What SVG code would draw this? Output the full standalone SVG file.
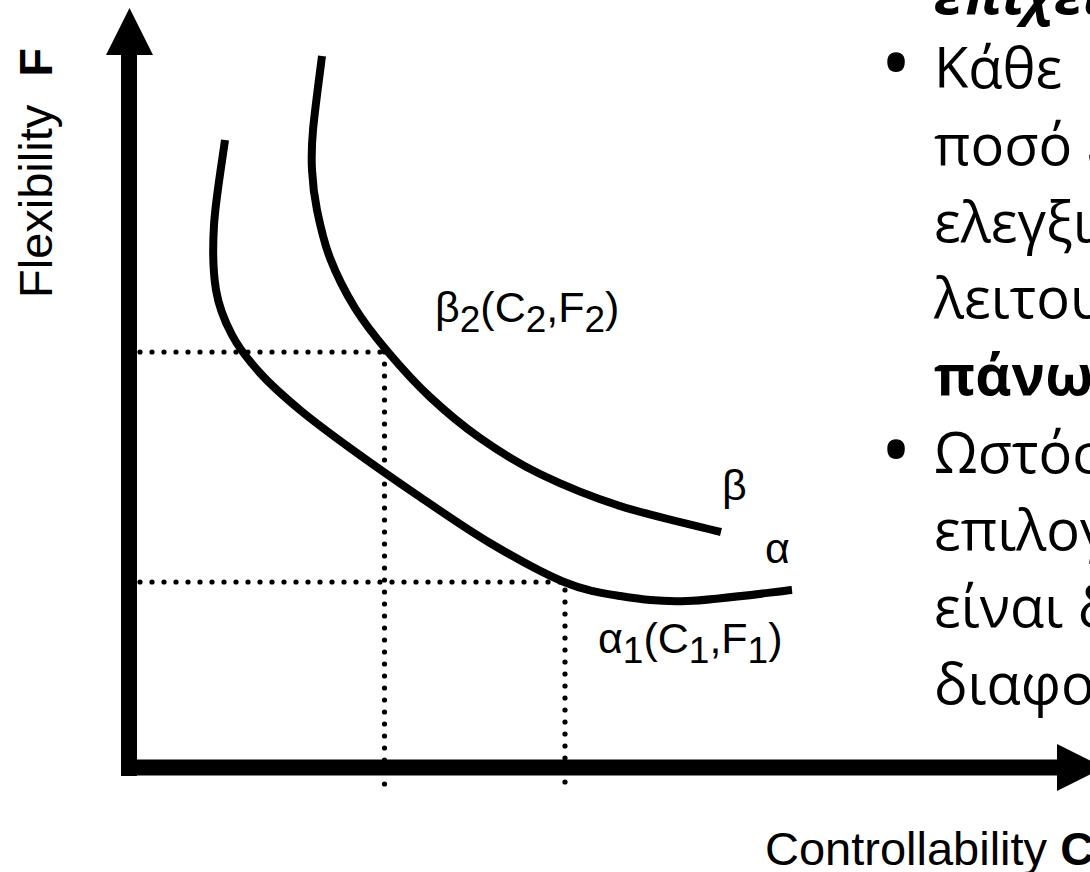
<svg xmlns="http://www.w3.org/2000/svg" width="1090" height="872" viewBox="0 0 1090 872">
<style>
.curve{fill:none;stroke:#000;stroke-width:8;stroke-linecap:butt}
.dot{fill:none;stroke:#000;stroke-width:5.2;stroke-linecap:round;stroke-dasharray:0 12}
.lbl{font-family:"Liberation Sans",Arial,sans-serif;font-size:43px;fill:#000}
.sub{font-size:37px}
.ax{font-family:"Liberation Sans",Arial,sans-serif;font-size:47px;fill:#000}
.body{font-family:"Open Sans","Noto Sans",sans-serif;font-size:56px;fill:#000}
.bul{font-family:"Open Sans","Noto Sans",sans-serif;font-size:84px;fill:#000}
</style>
<rect width="1090" height="872" fill="#fff"/>
<g id="guides">
<line class="dot" x1="140" y1="352" x2="386" y2="352"/>
<line class="dot" x1="384.5" y1="352" x2="384.5" y2="790"/>
<line class="dot" x1="140" y1="582" x2="564" y2="582"/>
<line class="dot" x1="565" y1="590" x2="565" y2="784"/>
</g>
<g id="axes">
<rect x="121" y="54" width="16" height="722" fill="#000"/>
<polygon points="106,55 129.5,8 153,55" fill="#000"/>
<rect x="121" y="759.5" width="937" height="16" fill="#000"/>
<polygon points="1057,744 1104,767.5 1057,791" fill="#000"/>
</g>
<g id="curve-alpha">
<path class="curve" d="M225,140 C223.2,154.2 215.5,200 214,225 C212.5,250 213,271.7 216,290 C219,308.3 224.7,321.2 232,335 C239.3,348.8 248.7,360.5 260,373 C271.3,385.5 285,397.5 300,410 C315,422.5 330,433.5 350,448 C370,462.5 396.7,481.2 420,497 C443.3,512.8 466,528.8 490,543 C514,557.2 542.3,573.2 564,582 C585.7,590.8 599.5,592.8 620,596 C640.5,599.2 658.3,602 687,601 C715.7,600 774.5,591.8 792,590"/>
</g>
<g id="curve-beta">
<path class="curve" d="M322,56 C320.5,68.3 314.7,111 313,130 C311.3,149 311.3,156.7 312,170 C312.7,183.3 314,195.3 317,210 C320,224.7 323.7,241.7 330,258 C336.3,274.3 345.3,292.3 355,308 C364.7,323.7 375.5,337.2 388,352 C400.5,366.8 414.7,382.7 430,397 C445.3,411.3 461.7,425.2 480,438 C498.3,450.8 516.7,462.7 540,474 C563.3,485.3 589.8,496.3 620,506 C650.2,515.7 704.2,527.7 721,532"/>
</g>
<g id="labels">
<text class="lbl" x="722" y="500">β</text>
<text class="lbl" x="765" y="563">α</text>
<text class="lbl" x="435" y="322">β<tspan class="sub" dy="10">2</tspan><tspan dy="-10">(C</tspan><tspan class="sub" dy="10">2</tspan><tspan dy="-10">,F</tspan><tspan class="sub" dy="10">2</tspan><tspan dy="-10">)</tspan></text>
<text class="lbl" x="598" y="653">α<tspan class="sub" dy="10">1</tspan><tspan dy="-10">(C</tspan><tspan class="sub" dy="10">1</tspan><tspan dy="-10">,F</tspan><tspan class="sub" dy="10">1</tspan><tspan dy="-10">)</tspan></text>
<text class="ax" x="765" y="865">Controllability <tspan font-weight="bold">C</tspan></text>
<text class="ax" transform="translate(52,298) rotate(-90)">Flexibility<tspan dx="28" font-weight="bold">F</tspan></text>
</g>
<g id="bullets">
<text class="body" x="934" y="14" font-weight="bold" font-style="italic">επιχει</text>
<text class="bul" x="896" y="93" text-anchor="middle">•</text>
<text class="body" x="934" y="88">Κάθε</text>
<text class="body" x="934" y="165">ποσό ε</text>
<text class="body" x="934" y="242">ελεγξι</text>
<text class="body" x="934" y="318">λειτου</text>
<text class="body" x="934" y="395" font-weight="bold">πάνω</text>
<text class="bul" x="896" y="480" text-anchor="middle">•</text>
<text class="body" x="934" y="473">Ωστόσ</text>
<text class="body" x="934" y="550">επιλογ</text>
<text class="body" x="934" y="627">είναι δ</text>
<text class="body" x="934" y="704">διαφο</text>
</g>
</svg>
